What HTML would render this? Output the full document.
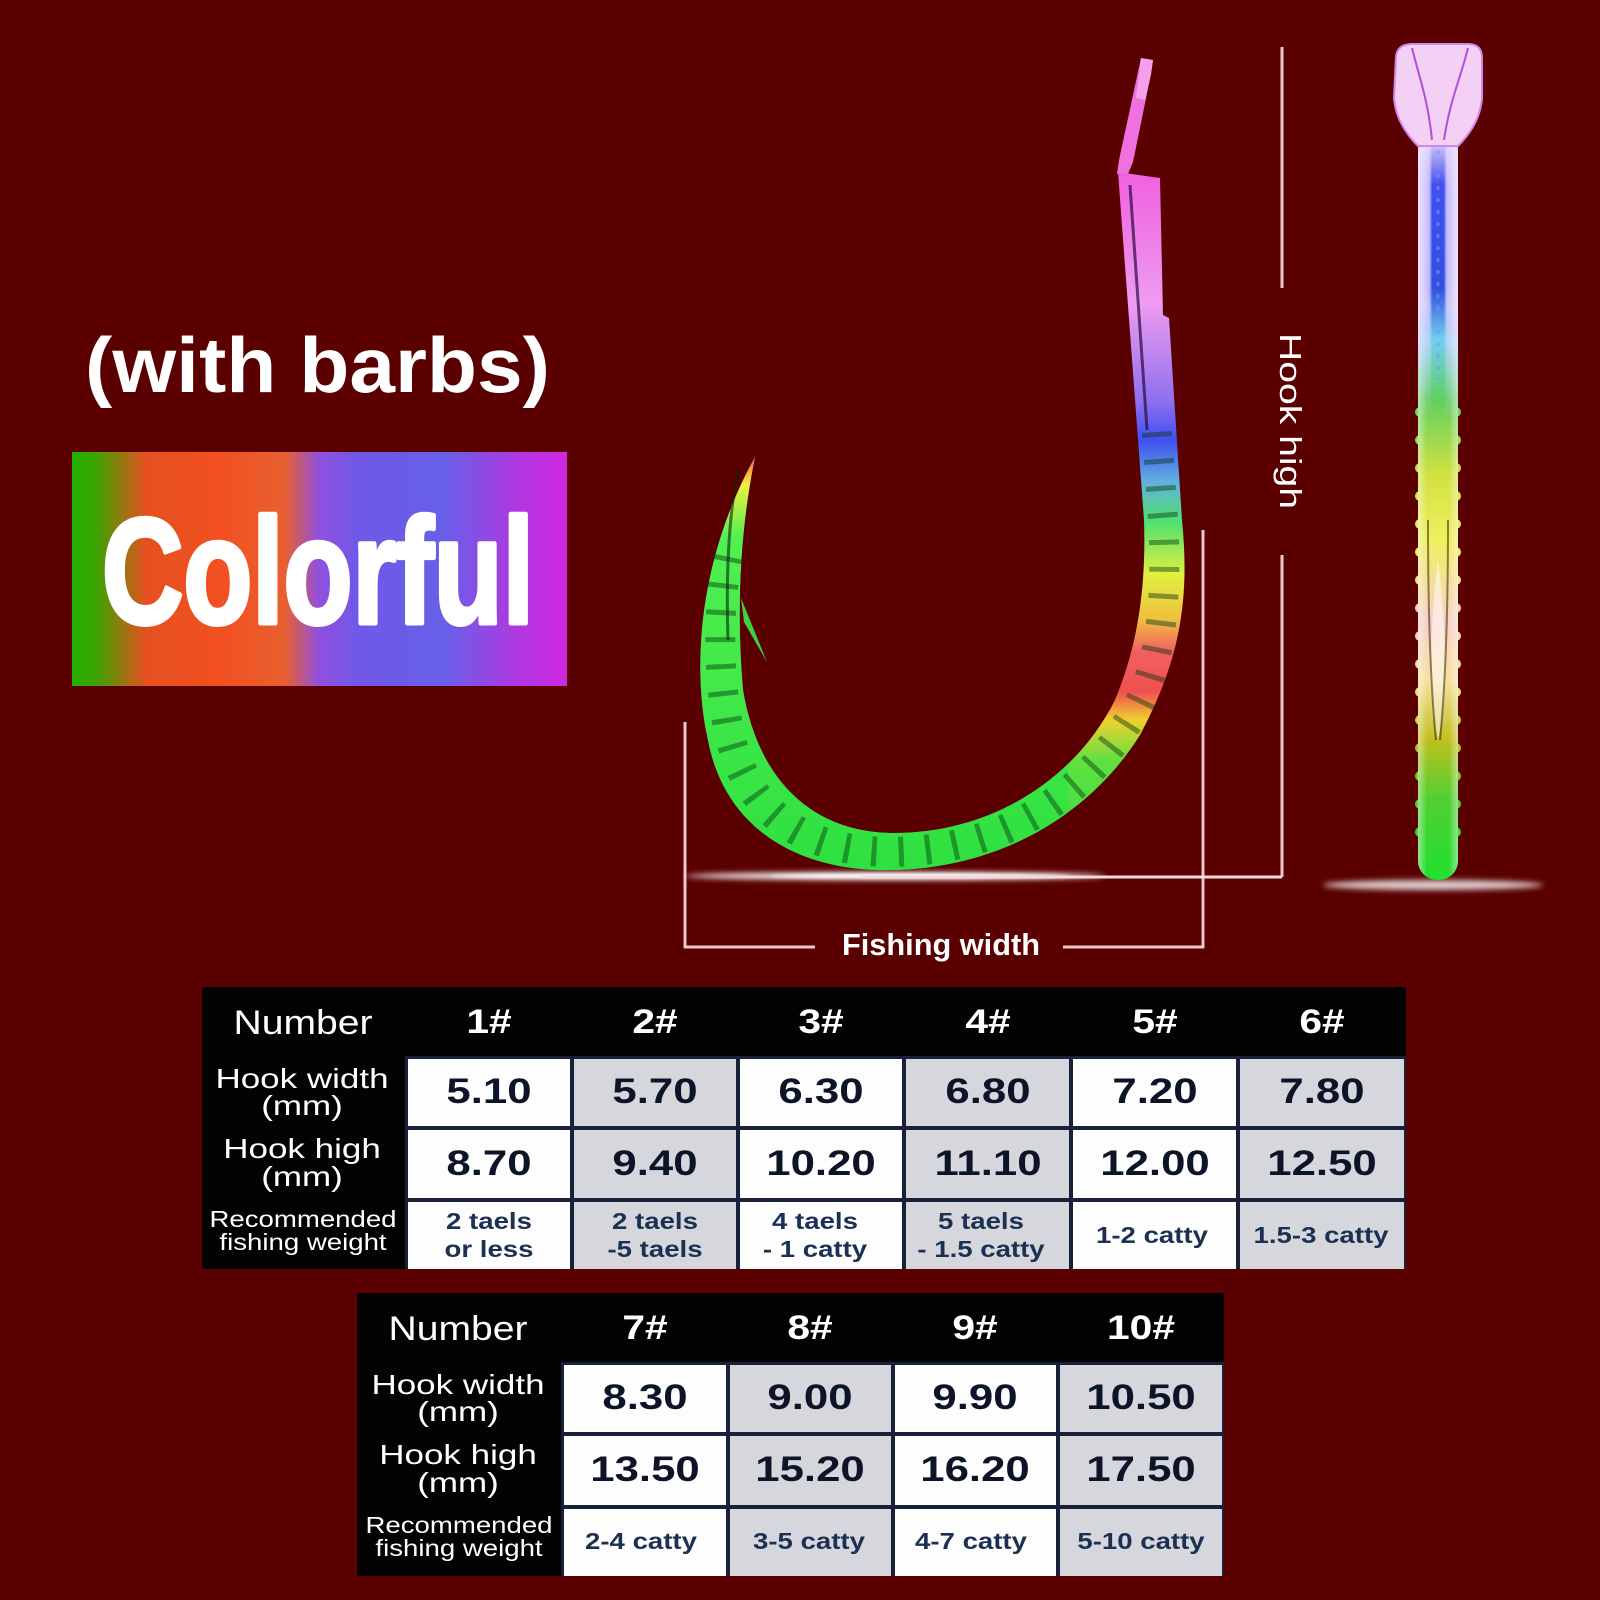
<!DOCTYPE html>
<html>
<head>
<meta charset="utf-8">
<style>
html,body{margin:0;padding:0;background:#5a0001;}
svg{display:block;}
text{font-family:"Liberation Sans","DejaVu Sans",sans-serif;}
.hd{fill:#fff;font-weight:bold;font-size:34px;text-anchor:middle;}
.nb{fill:#fff;font-size:34px;text-anchor:middle;}
.lb{fill:#fff;font-size:28px;text-anchor:middle;}
.rc{fill:#fff;font-size:23px;text-anchor:middle;}
.num{fill:#0c1428;font-weight:bold;font-size:35px;text-anchor:middle;}
.wt{fill:#1b3052;font-weight:bold;font-size:23px;text-anchor:middle;}
</style>
</head>
<body>
<svg width="1600" height="1600" viewBox="0 0 1600 1600" xmlns="http://www.w3.org/2000/svg">
<defs>
  <linearGradient id="gbox" x1="0" y1="0" x2="1" y2="0">
    <stop offset="0" stop-color="#22b000"/>
    <stop offset="0.05" stop-color="#3ea200"/>
    <stop offset="0.15" stop-color="#e65020"/>
    <stop offset="0.30" stop-color="#f25020"/>
    <stop offset="0.43" stop-color="#e86030"/>
    <stop offset="0.50" stop-color="#9050e0"/>
    <stop offset="0.58" stop-color="#7058e8"/>
    <stop offset="0.75" stop-color="#6660e8"/>
    <stop offset="0.90" stop-color="#b038e0"/>
    <stop offset="1" stop-color="#d028e0"/>
  </linearGradient>
  <linearGradient id="gR" gradientUnits="userSpaceOnUse" x1="0" y1="60" x2="0" y2="870">
    <stop offset="0" stop-color="#f48ae8"/>
    <stop offset="0.14" stop-color="#f060e0"/>
    <stop offset="0.30" stop-color="#ee9cf0"/>
    <stop offset="0.42" stop-color="#9070f0"/>
    <stop offset="0.47" stop-color="#4050f0"/>
    <stop offset="0.52" stop-color="#60b0e0"/>
    <stop offset="0.57" stop-color="#50e070"/>
    <stop offset="0.635" stop-color="#e0f040"/>
    <stop offset="0.69" stop-color="#f0c040"/>
    <stop offset="0.73" stop-color="#f06060"/>
    <stop offset="0.78" stop-color="#f05050"/>
    <stop offset="0.815" stop-color="#f0d030"/>
    <stop offset="0.865" stop-color="#60e040"/>
    <stop offset="1" stop-color="#30e040"/>
  </linearGradient>
  <linearGradient id="gL" gradientUnits="userSpaceOnUse" x1="0" y1="455" x2="0" y2="870">
    <stop offset="0" stop-color="#ff5050"/>
    <stop offset="0.07" stop-color="#f0f040"/>
    <stop offset="0.2" stop-color="#50f050"/>
    <stop offset="1" stop-color="#2ee040"/>
  </linearGradient>
  <linearGradient id="gS" gradientUnits="userSpaceOnUse" x1="0" y1="140" x2="0" y2="880">
    <stop offset="0" stop-color="#e0d0f8"/>
    <stop offset="0.06" stop-color="#4050f0"/>
    <stop offset="0.2" stop-color="#3050e0"/>
    <stop offset="0.27" stop-color="#70d0f0"/>
    <stop offset="0.35" stop-color="#60d060"/>
    <stop offset="0.45" stop-color="#d0e040"/>
    <stop offset="0.54" stop-color="#f0f060"/>
    <stop offset="0.65" stop-color="#f8d0c8"/>
    <stop offset="0.73" stop-color="#f8e0a0"/>
    <stop offset="0.81" stop-color="#c0c020"/>
    <stop offset="0.89" stop-color="#50d030"/>
    <stop offset="1" stop-color="#20e030"/>
  </linearGradient>
  <linearGradient id="gEdge" gradientUnits="userSpaceOnUse" x1="1416" y1="0" x2="1460" y2="0">
    <stop offset="0" stop-color="#fff" stop-opacity="0.55"/>
    <stop offset="0.25" stop-color="#fff" stop-opacity="0"/>
    <stop offset="0.75" stop-color="#fff" stop-opacity="0"/>
    <stop offset="1" stop-color="#fff" stop-opacity="0.55"/>
  </linearGradient>
  <linearGradient id="gTopEdge" gradientUnits="userSpaceOnUse" x1="1418" y1="0" x2="1458" y2="0">
    <stop offset="0" stop-color="#f0e4ff" stop-opacity="0.95"/>
    <stop offset="0.28" stop-color="#e8d8ff" stop-opacity="0.8"/>
    <stop offset="0.36" stop-color="#e8d8ff" stop-opacity="0"/>
    <stop offset="0.64" stop-color="#e8d8ff" stop-opacity="0"/>
    <stop offset="0.72" stop-color="#e8d8ff" stop-opacity="0.8"/>
    <stop offset="1" stop-color="#f0e4ff" stop-opacity="0.95"/>
  </linearGradient>
  <linearGradient id="gFade" gradientUnits="userSpaceOnUse" x1="0" y1="140" x2="0" y2="420">
    <stop offset="0" stop-color="#fff"/>
    <stop offset="0.6" stop-color="#fff"/>
    <stop offset="1" stop-color="#000"/>
  </linearGradient>
  <mask id="topmask"><rect x="1400" y="130" width="80" height="300" fill="url(#gFade)"/></mask>
  <filter id="blur" x="-20%" y="-300%" width="140%" height="700%"><feGaussianBlur stdDeviation="3"/></filter>
  <filter id="blur2" x="-20%" y="-300%" width="140%" height="700%"><feGaussianBlur stdDeviation="1.5"/></filter>
  <clipPath id="leftclip"><rect x="0" y="0" width="1068" height="1000"/></clipPath>
  <path id="hook" d="M1118,172 L1160,178 L1163,315 L1169,318 L1182,520 C1190,600 1180,660 1140,735 C1090,815 1000,868 892,870 C800,872 725,830 708,740 C692,670 698,560 755,457 C738,540 737,620 743,690 C758,780 812,832 892,833 C990,834 1075,780 1115,700 C1140,640 1146,580 1144,520 L1118,172 Z"/>
</defs>

<rect x="0" y="0" width="1600" height="1600" fill="#5a0001"/>

<!-- (with barbs) -->
<text x="85" y="392" font-size="78" font-weight="bold" fill="#fff" textLength="465" lengthAdjust="spacingAndGlyphs">(with barbs)</text>

<!-- Colorful box -->
<rect x="72" y="452" width="495" height="234" fill="url(#gbox)"/>
<text x="102" y="623" font-size="150" font-weight="bold" fill="#fff" stroke="#fff" stroke-width="5" stroke-linejoin="round" textLength="432" lengthAdjust="spacingAndGlyphs">Colorful</text>

<!-- dimension lines -->
<g stroke="#ecc8c6" stroke-width="3" fill="none">
  <line x1="1282" y1="47" x2="1282" y2="288"/>
  <line x1="1282" y1="555" x2="1282" y2="877"/>
  <line x1="1060" y1="877" x2="1282" y2="877"/>
  <line x1="685" y1="722" x2="685" y2="948"/>
  <line x1="684" y1="947" x2="815" y2="947"/>
  <line x1="1063" y1="947" x2="1204" y2="947"/>
  <line x1="1203" y1="530" x2="1203" y2="948"/>
</g>
<text transform="translate(1280 333) rotate(90)" x="0" y="0" font-size="31" fill="#fff" textLength="176" lengthAdjust="spacingAndGlyphs">Hook high</text>
<text x="842" y="955" font-size="31" font-weight="bold" fill="#fff" textLength="198" lengthAdjust="spacingAndGlyphs">Fishing width</text>

<!-- glow under hook -->
<ellipse cx="895" cy="876" rx="210" ry="4" fill="#fff" opacity="0.95" filter="url(#blur)"/>
<ellipse cx="920" cy="876" rx="150" ry="2" fill="#fff" filter="url(#blur2)"/>
<line x1="860" y1="877" x2="1282" y2="877" stroke="#f4dada" stroke-width="3"/>

<!-- hook eye -->
<polygon points="1141,58 1153,60 1151,74 1133,162 1128,174 1117,174 1119,160" fill="#f070e0"/>
<polygon points="1141,58 1153,60 1151,74 1145,100 1136,98" fill="#f4a0ea"/>

<!-- hook body -->
<use href="#hook" fill="url(#gR)"/>
<use href="#hook" fill="url(#gL)" clip-path="url(#leftclip)"/>
<!-- notches -->
<path d="M1157,432 L1163,520 C1168,600 1160,680 1128,722 C1080,800 1000,850 892,852 C790,852 738,800 726,715 C716,650 720,580 732,540" fill="none" stroke="#063a10" stroke-opacity="0.45" stroke-width="30" stroke-dasharray="5 22"/>
<path d="M1130,185 L1147,430" stroke="#2a0a40" stroke-width="3" opacity="0.7"/>
<path d="M738,470 C728,520 726,580 728,640" fill="none" stroke="#102010" stroke-width="3" opacity="0.6"/>
<!-- barb -->
<polygon points="741,598 767,662 744,622" fill="#40d040"/>

<!-- side view stick -->
<ellipse cx="1433" cy="885" rx="110" ry="5" fill="#fff" opacity="0.8" filter="url(#blur)"/>
<g>
  <g fill="url(#gS)">
    <rect x="1418" y="138" width="40" height="742" rx="19"/>
  </g>
  <g fill="url(#gS)">
    <circle cx="1420" cy="412" r="5"/><circle cx="1456" cy="412" r="5"/>
    <circle cx="1420" cy="440" r="5"/><circle cx="1456" cy="440" r="5"/>
    <circle cx="1420" cy="468" r="5"/><circle cx="1456" cy="468" r="5"/>
    <circle cx="1420" cy="496" r="5"/><circle cx="1456" cy="496" r="5"/>
    <circle cx="1420" cy="524" r="5"/><circle cx="1456" cy="524" r="5"/>
    <circle cx="1420" cy="552" r="5"/><circle cx="1456" cy="552" r="5"/>
    <circle cx="1420" cy="580" r="5"/><circle cx="1456" cy="580" r="5"/>
    <circle cx="1420" cy="608" r="5"/><circle cx="1456" cy="608" r="5"/>
    <circle cx="1420" cy="636" r="5"/><circle cx="1456" cy="636" r="5"/>
    <circle cx="1420" cy="664" r="5"/><circle cx="1456" cy="664" r="5"/>
    <circle cx="1420" cy="692" r="5"/><circle cx="1456" cy="692" r="5"/>
    <circle cx="1420" cy="720" r="5"/><circle cx="1456" cy="720" r="5"/>
    <circle cx="1420" cy="748" r="5"/><circle cx="1456" cy="748" r="5"/>
    <circle cx="1420" cy="776" r="5"/><circle cx="1456" cy="776" r="5"/>
    <circle cx="1420" cy="804" r="5"/><circle cx="1456" cy="804" r="5"/>
    <circle cx="1420" cy="832" r="5"/><circle cx="1456" cy="832" r="5"/>
  </g>
  <rect x="1418" y="138" width="40" height="742" rx="19" fill="url(#gEdge)"/>
  <rect x="1418" y="140" width="40" height="290" fill="url(#gTopEdge)" mask="url(#topmask)"/>
  <path d="M1438,150 L1438,380" stroke="#8090ff" stroke-width="3" stroke-dasharray="4 8" opacity="0.6"/>
  <path d="M1438,560 C1430,620 1428,700 1438,740 C1448,700 1446,620 1438,560 Z" fill="#ffffff" opacity="0.5"/>
  <path d="M1428,520 C1428,600 1430,680 1436,740" fill="none" stroke="#201000" stroke-width="2" opacity="0.5"/>
  <path d="M1448,520 C1448,600 1446,680 1440,740" fill="none" stroke="#201000" stroke-width="2" opacity="0.5"/>
  <!-- bulb -->
  <path d="M1396,56 Q1398,44 1412,44 L1468,44 Q1482,44 1482,58 L1482,98 Q1480,124 1458,146 L1418,146 Q1396,124 1394,98 Z" fill="#f4d0f4" stroke="#d088e8" stroke-width="2"/>
  <path d="M1412,48 C1420,80 1428,100 1432,140" fill="none" stroke="#b050d8" stroke-width="2"/>
  <path d="M1468,48 C1460,80 1450,100 1444,140" fill="none" stroke="#b050d8" stroke-width="2"/>
</g>

<!-- TABLE 1 -->
<rect x="202" y="987" width="1204" height="282" fill="#030303"/>
<rect x="405" y="1056" width="1001" height="213" fill="#17223a"/>
<g>
  <rect x="408" y="1059" width="162" height="67" fill="#fdfdfd"/>
  <rect x="574" y="1059" width="162" height="67" fill="#d5d7dc"/>
  <rect x="740" y="1059" width="162" height="67" fill="#fdfdfd"/>
  <rect x="906" y="1059" width="163" height="67" fill="#d5d7dc"/>
  <rect x="1073" y="1059" width="163" height="67" fill="#fdfdfd"/>
  <rect x="1240" y="1059" width="164" height="67" fill="#d5d7dc"/>

  <rect x="408" y="1130" width="162" height="68" fill="#fdfdfd"/>
  <rect x="574" y="1130" width="162" height="68" fill="#d5d7dc"/>
  <rect x="740" y="1130" width="162" height="68" fill="#fdfdfd"/>
  <rect x="906" y="1130" width="163" height="68" fill="#d5d7dc"/>
  <rect x="1073" y="1130" width="163" height="68" fill="#fdfdfd"/>
  <rect x="1240" y="1130" width="164" height="68" fill="#d5d7dc"/>

  <rect x="408" y="1202" width="162" height="67" fill="#fdfdfd"/>
  <rect x="574" y="1202" width="162" height="67" fill="#d5d7dc"/>
  <rect x="740" y="1202" width="162" height="67" fill="#fdfdfd"/>
  <rect x="906" y="1202" width="163" height="67" fill="#d5d7dc"/>
  <rect x="1073" y="1202" width="163" height="67" fill="#fdfdfd"/>
  <rect x="1240" y="1202" width="164" height="67" fill="#d5d7dc"/>
</g>
<text class="nb" transform="translate(303 1034) scale(1.15 1)">Number</text>
<text class="hd" transform="translate(489 1033) scale(1.2 1)">1#</text>
<text class="hd" transform="translate(655 1033) scale(1.2 1)">2#</text>
<text class="hd" transform="translate(821 1033) scale(1.2 1)">3#</text>
<text class="hd" transform="translate(988 1033) scale(1.2 1)">4#</text>
<text class="hd" transform="translate(1155 1033) scale(1.2 1)">5#</text>
<text class="hd" transform="translate(1322 1033) scale(1.2 1)">6#</text>

<text class="lb" transform="translate(302 1088) scale(1.25 1)">Hook width</text>
<text class="lb" transform="translate(302 1115) scale(1.25 1)">(mm)</text>
<text class="lb" transform="translate(302 1158) scale(1.25 1)">Hook high</text>
<text class="lb" transform="translate(302 1186) scale(1.25 1)">(mm)</text>
<text class="rc" transform="translate(303 1227) scale(1.2 1)">Recommended</text>
<text class="rc" transform="translate(303 1250) scale(1.2 1)">fishing weight</text>

<text class="num" transform="translate(489 1103) scale(1.25 1)">5.10</text>
<text class="num" transform="translate(655 1103) scale(1.25 1)">5.70</text>
<text class="num" transform="translate(821 1103) scale(1.25 1)">6.30</text>
<text class="num" transform="translate(988 1103) scale(1.25 1)">6.80</text>
<text class="num" transform="translate(1155 1103) scale(1.25 1)">7.20</text>
<text class="num" transform="translate(1322 1103) scale(1.25 1)">7.80</text>

<text class="num" transform="translate(489 1175) scale(1.25 1)">8.70</text>
<text class="num" transform="translate(655 1175) scale(1.25 1)">9.40</text>
<text class="num" transform="translate(821 1175) scale(1.25 1)">10.20</text>
<text class="num" transform="translate(988 1175) scale(1.25 1)">11.10</text>
<text class="num" transform="translate(1155 1175) scale(1.25 1)">12.00</text>
<text class="num" transform="translate(1322 1175) scale(1.25 1)">12.50</text>

<text class="wt" transform="translate(489 1229) scale(1.2 1)">2 taels</text>
<text class="wt" transform="translate(489 1257) scale(1.2 1)">or less</text>
<text class="wt" transform="translate(655 1229) scale(1.2 1)">2 taels</text>
<text class="wt" transform="translate(655 1257) scale(1.2 1)">-5 taels</text>
<text class="wt" transform="translate(815 1229) scale(1.2 1)">4 taels</text>
<text class="wt" transform="translate(815 1257) scale(1.2 1)">- 1 catty</text>
<text class="wt" transform="translate(981 1229) scale(1.2 1)">5 taels</text>
<text class="wt" transform="translate(981 1257) scale(1.2 1)">- 1.5 catty</text>
<text class="wt" transform="translate(1152 1243) scale(1.2 1)">1-2 catty</text>
<text class="wt" transform="translate(1321 1243) scale(1.2 1)">1.5-3 catty</text>

<!-- TABLE 2 -->
<rect x="357" y="1293" width="867" height="283" fill="#030303"/>
<rect x="561" y="1362" width="663" height="214" fill="#17223a"/>
<g>
  <rect x="564" y="1365" width="162" height="67" fill="#fdfdfd"/>
  <rect x="730" y="1365" width="161" height="67" fill="#d5d7dc"/>
  <rect x="895" y="1365" width="161" height="67" fill="#fdfdfd"/>
  <rect x="1060" y="1365" width="162" height="67" fill="#d5d7dc"/>

  <rect x="564" y="1436" width="162" height="69" fill="#fdfdfd"/>
  <rect x="730" y="1436" width="161" height="69" fill="#d5d7dc"/>
  <rect x="895" y="1436" width="161" height="69" fill="#fdfdfd"/>
  <rect x="1060" y="1436" width="162" height="69" fill="#d5d7dc"/>

  <rect x="564" y="1509" width="162" height="67" fill="#fdfdfd"/>
  <rect x="730" y="1509" width="161" height="67" fill="#d5d7dc"/>
  <rect x="895" y="1509" width="161" height="67" fill="#fdfdfd"/>
  <rect x="1060" y="1509" width="162" height="67" fill="#d5d7dc"/>
</g>
<text class="nb" transform="translate(458 1340) scale(1.15 1)">Number</text>
<text class="hd" transform="translate(645 1339) scale(1.2 1)">7#</text>
<text class="hd" transform="translate(810 1339) scale(1.2 1)">8#</text>
<text class="hd" transform="translate(975 1339) scale(1.2 1)">9#</text>
<text class="hd" transform="translate(1141 1339) scale(1.2 1)">10#</text>

<text class="lb" transform="translate(458 1394) scale(1.25 1)">Hook width</text>
<text class="lb" transform="translate(458 1421) scale(1.25 1)">(mm)</text>
<text class="lb" transform="translate(458 1464) scale(1.25 1)">Hook high</text>
<text class="lb" transform="translate(458 1492) scale(1.25 1)">(mm)</text>
<text class="rc" transform="translate(459 1533) scale(1.2 1)">Recommended</text>
<text class="rc" transform="translate(459 1556) scale(1.2 1)">fishing weight</text>

<text class="num" transform="translate(645 1409) scale(1.25 1)">8.30</text>
<text class="num" transform="translate(810 1409) scale(1.25 1)">9.00</text>
<text class="num" transform="translate(975 1409) scale(1.25 1)">9.90</text>
<text class="num" transform="translate(1141 1409) scale(1.25 1)">10.50</text>

<text class="num" transform="translate(645 1481) scale(1.25 1)">13.50</text>
<text class="num" transform="translate(810 1481) scale(1.25 1)">15.20</text>
<text class="num" transform="translate(975 1481) scale(1.25 1)">16.20</text>
<text class="num" transform="translate(1141 1481) scale(1.25 1)">17.50</text>

<text class="wt" transform="translate(641 1549) scale(1.2 1)">2-4 catty</text>
<text class="wt" transform="translate(809 1549) scale(1.2 1)">3-5 catty</text>
<text class="wt" transform="translate(971 1549) scale(1.2 1)">4-7 catty</text>
<text class="wt" transform="translate(1141 1549) scale(1.2 1)">5-10 catty</text>
</svg>
</body>
</html>
